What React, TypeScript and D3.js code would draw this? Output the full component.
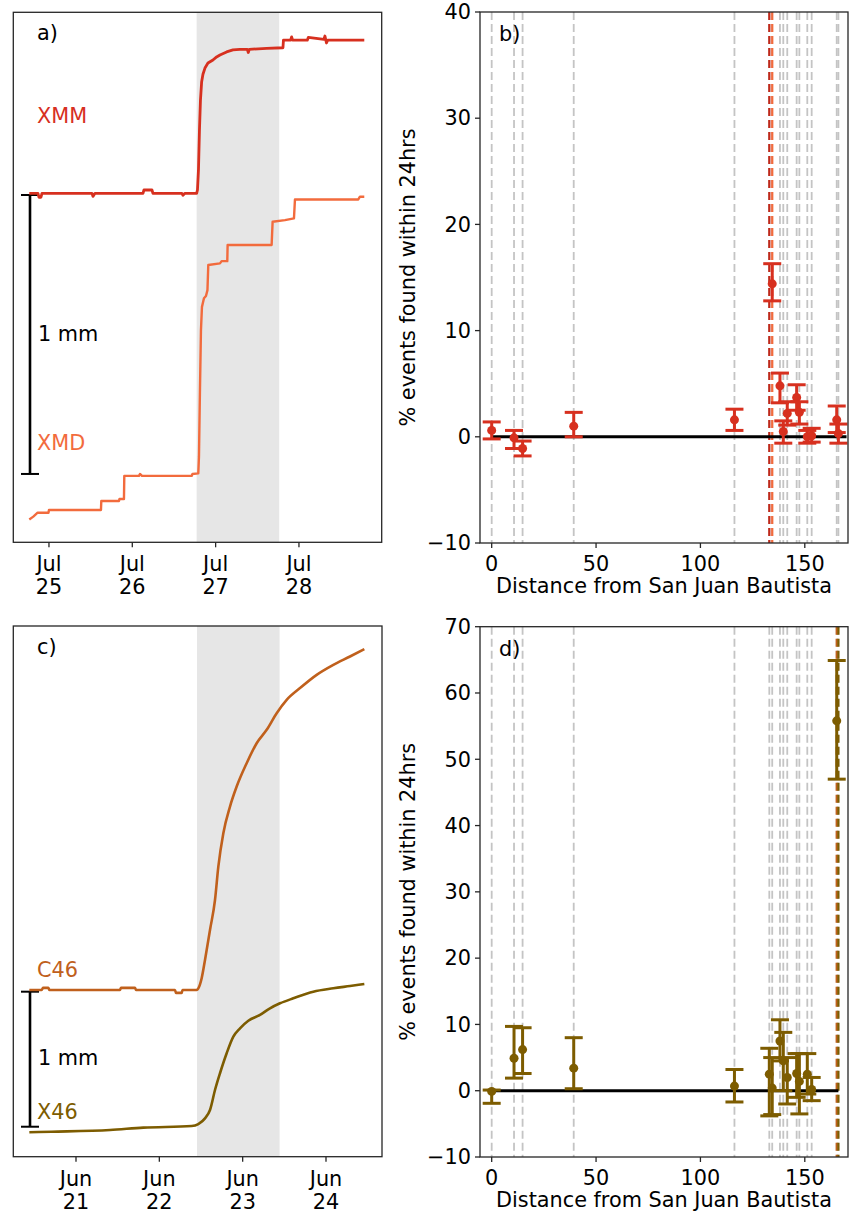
import React from "react";
import * as d3 from "d3";

// ---------- DATA ----------
// panel a (July), time as day-of-month (fractional), value in mm (display offset)
const xmmDay = [24.764, 24.868, 24.88, 24.904, 24.916, 25.516, 25.528, 25.552, 26.128, 26.14, 26.236, 26.248, 26.596, 26.608, 26.632, 26.772, 26.782, 26.794, 26.806, 26.818, 26.832, 26.848, 26.872, 26.908, 26.968, 27.012, 27.052, 27.132, 27.208, 27.292, 27.38, 27.392, 27.404, 27.612, 27.808, 27.814, 27.9, 27.912, 27.924, 28.1, 28.112, 28.3, 28.312, 28.33, 28.345, 28.784];
const xmmVal = [1.251, 1.251, 1.237, 1.237, 1.251, 1.251, 1.24, 1.251, 1.251, 1.263, 1.263, 1.251, 1.251, 1.244, 1.251, 1.251, 1.263, 1.334, 1.478, 1.585, 1.65, 1.678, 1.7, 1.718, 1.729, 1.74, 1.747, 1.758, 1.765, 1.767, 1.767, 1.756, 1.767, 1.771, 1.773, 1.8, 1.8, 1.812, 1.8, 1.8, 1.81, 1.803, 1.815, 1.79, 1.8, 1.8];
const xmdDay = [24.764, 24.812, 24.864, 24.994, 25.0, 25.624, 25.628, 25.84, 25.846, 25.9, 25.904, 26.08, 26.092, 26.116, 26.712, 26.722, 26.792, 26.8, 26.812, 26.824, 26.836, 26.86, 26.884, 26.902, 26.912, 27.052, 27.072, 27.14, 27.144, 27.672, 27.684, 27.832, 27.94, 27.952, 28.712, 28.732, 28.784];
const xmdVal = [0.082, 0.092, 0.106, 0.106, 0.116, 0.116, 0.148, 0.148, 0.155, 0.155, 0.238, 0.238, 0.245, 0.238, 0.238, 0.245, 0.247, 0.307, 0.546, 0.761, 0.844, 0.875, 0.883, 0.904, 0.994, 1.0, 1.008, 1.008, 1.066, 1.066, 1.149, 1.155, 1.161, 1.229, 1.229, 1.239, 1.239];
const bandA = [26.772, 27.763];

// panel c (June)
const c46Day = [20.44, 20.588, 20.604, 20.668, 20.682, 21.528, 21.54, 21.708, 21.72, 22.188, 22.2, 22.268, 22.278, 22.448, 22.468, 22.508, 22.548, 22.608, 22.668, 22.708, 22.768, 22.848, 22.928, 23.048, 23.168, 23.288, 23.408, 23.528, 23.688, 23.888, 24.088, 24.288, 24.46];
const c46Val = [1.235, 1.235, 1.25, 1.25, 1.235, 1.235, 1.25, 1.25, 1.235, 1.235, 1.213, 1.213, 1.235, 1.235, 1.247, 1.322, 1.457, 1.679, 1.901, 2.148, 2.396, 2.593, 2.741, 2.914, 3.062, 3.161, 3.284, 3.383, 3.47, 3.568, 3.642, 3.704, 3.759];
const x46Day = [20.44, 20.708, 21.408, 21.808, 22.388, 22.468, 22.548, 22.608, 22.668, 22.728, 22.808, 22.888, 22.968, 23.068, 23.208, 23.328, 23.448, 23.608, 23.848, 24.088, 24.288, 24.46];
const x46Val = [0.181, 0.185, 0.198, 0.215, 0.227, 0.242, 0.284, 0.346, 0.494, 0.618, 0.766, 0.889, 0.951, 1.007, 1.05, 1.099, 1.136, 1.173, 1.222, 1.247, 1.264, 1.279];
const bandC = [22.452, 23.443];

// station distances (km) from San Juan Bautista
const stationDist = [0, 10.7, 14.8, 39.3, 116.3, 133.0, 134.4, 138.1, 139.7, 141.6, 146.1, 147.4, 151.2, 153.3, 165.3, 166.1];

// panel b
const bDist = [0, 10.7, 14.8, 39.3, 116.3, 134.4, 138.1, 141.6, 146.1, 147.4, 139.7, 151.2, 153.3, 165.3, 166.1];
const bVal = [0.6, -0.1, -1.1, 1.0, 1.6, 14.4, 4.8, 2.2, 3.7, 2.3, 0.5, 0.0, 0.1, 1.6, 0.3];
const bLo = [-0.2, -1.1, -1.8, 0.0, 0.6, 12.8, 3.2, 1.1, 2.5, 1.2, -0.6, -0.6, -0.5, 0.4, -0.6];
const bHi = [1.4, 0.6, -0.4, 2.3, 2.6, 16.3, 6.0, 3.3, 4.9, 3.3, 1.5, 0.6, 0.8, 2.9, 1.2];

// panel d
const dDist = [0, 10.7, 14.8, 39.3, 116.3, 133.0, 134.4, 138.1, 139.7, 141.6, 146.1, 147.4, 151.2, 153.3, 165.3];
const dVal = [-0.1, 4.9, 6.2, 3.4, 0.7, 2.5, 0.4, 7.5, 4.5, 2.0, 2.6, 1.4, 2.5, 0.2, 55.8];
const dLo = [-1.9, 1.9, 2.6, 0.3, -1.7, -3.8, -3.6, 4.5, 0.0, -2.0, -1.0, -3.5, -0.5, -1.5, 47.0];
const dHi = [0.1, 9.7, 9.5, 8.0, 3.2, 6.4, 5.0, 10.7, 8.8, 5.0, 5.6, 5.6, 5.6, 2.0, 64.9];

const bTicks = [-10, 0, 10, 20, 30, 40];
const dTicks = [-10, 0, 10, 20, 30, 40, 50, 60, 70];
const distTicks = [0, 50, 100, 150];

// ---------- STYLE ----------
const FONT = "DejaVu Sans, Verdana, sans-serif";
const FS = 20.8;
const C_XMM = "#d7301f";
const C_XMD = "#f26b3d";
const C_C46 = "#c0601c";
const C_X46 = "#7d5c00";
const SPINE = "#262626";

const toDate = (month: number, day: number) =>
  new Date(Date.UTC(2020, month, 1) + (day - 1) * 864e5);

function Frame({ x0, x1, y0, y1 }: any) {
  return <rect x={x0} y={y0} width={x1 - x0} height={y1 - y0} fill="none" stroke={SPINE} strokeWidth={1.3} />;
}

function TimePanel(props: any) {
  const { x0, x1, y0, y1, month, dayDomain, yDomain, band, series, bar, label, mmLabelY } = props;
  const x = d3.scaleUtc().domain([toDate(month, dayDomain[0]), toDate(month, dayDomain[1])]).range([x0, x1]);
  const y = d3.scaleLinear().domain(yDomain).range([y1, y0]);
  const ticks = d3.utcDay.range(x.domain()[0], x.domain()[1]).filter((t) => +t > +x.domain()[0]);
  const fMon = d3.utcFormat("%b");
  const fDay = d3.utcFormat("%-d");
  return (
    <g>
      <rect x={x(toDate(month, band[0]))} y={y0} width={x(toDate(month, band[1])) - x(toDate(month, band[0]))} height={y1 - y0} fill="#e6e6e6" />
      {/* scale bar */}
      <line x1={30} x2={30} y1={y(bar[0])} y2={y(bar[1])} stroke="#000" strokeWidth={2.6} />
      <line x1={21} x2={39} y1={y(bar[0])} y2={y(bar[0])} stroke="#000" strokeWidth={2} />
      <line x1={21} x2={39} y1={y(bar[1])} y2={y(bar[1])} stroke="#000" strokeWidth={2} />
      {series.map((s: any, i: number) => {
        const line = d3.line<[number, number]>()
          .x((d) => x(toDate(month, d[0])))
          .y((d) => y(d[1]))
          .curve(s.smooth ? d3.curveMonotoneX : d3.curveLinear);
        return (
          <path key={i} d={line(s.day.map((d: number, j: number) => [d, s.val[j]])) || ""} fill="none" stroke={s.color} strokeWidth={s.w} strokeLinejoin="round" />
        );
      })}
      {series.map((s: any, i: number) => (
        <text key={"l" + i} x={37} y={s.labelY} fill={s.color} fontSize={FS} fontFamily={FONT}>{s.name}</text>
      ))}
      <text x={38} y={mmLabelY} fontSize={FS} fontFamily={FONT} fill="#000">1 mm</text>
      <text x={37} y={y0 + 28} fontSize={FS} fontFamily={FONT} fill="#000">{label}</text>
      <Frame x0={x0} x1={x1} y0={y0} y1={y1} />
      {ticks.map((t, i) => (
        <g key={i} transform={`translate(${x(t)},${y1})`}>
          <line y1={0} y2={5} stroke={SPINE} strokeWidth={1.3} />
          <text y={29} textAnchor="middle" fontSize={FS} fontFamily={FONT} fill="#000">{fMon(t)}</text>
          <text y={52} textAnchor="middle" fontSize={FS} fontFamily={FONT} fill="#000">{fDay(t)}</text>
        </g>
      ))}
    </g>
  );
}

function DistPanel(props: any) {
  const { x0, x1, y0, y1, yDomain, yTicks, dist, val, lo, hi, color, highlight, zeroEnd, label } = props;
  const x = d3.scaleLinear().domain([-5.6, 170.7]).range([x0, x1]);
  const y = d3.scaleLinear().domain(yDomain).range([y1, y0]);
  const cy = (y0 + y1) / 2;
  return (
    <g>
      {stationDist.map((s, i) => (
        <line key={i} x1={x(s)} x2={x(s)} y1={y0} y2={y1} stroke="#c4c4c4" strokeWidth={1.8} strokeDasharray="8,4" />
      ))}
      {highlight.map((h: any, i: number) => (
        <line key={"h" + i} x1={x(h.d)} x2={x(h.d)} y1={y0} y2={y1} stroke={h.c} strokeWidth={2.2} strokeDasharray="8,4" />
      ))}
      <line x1={x(0)} x2={x(zeroEnd)} y1={y(0)} y2={y(0)} stroke="#000" strokeWidth={3} />
      {dist.map((d: number, i: number) => (
        <g key={"e" + i} stroke={color} strokeWidth={3} fill={color}>
          <line x1={x(d)} x2={x(d)} y1={y(lo[i])} y2={y(hi[i])} />
          <line x1={x(d) - 9} x2={x(d) + 9} y1={y(lo[i])} y2={y(lo[i])} />
          <line x1={x(d) - 9} x2={x(d) + 9} y1={y(hi[i])} y2={y(hi[i])} />
          <circle cx={x(d)} cy={y(val[i])} r={4.5} stroke="none" />
        </g>
      ))}
      <text x={x0 + 19} y={y0 + 29} fontSize={FS} fontFamily={FONT} fill="#000">{label}</text>
      <Frame x0={x0} x1={x1} y0={y0} y1={y1} />
      {yTicks.map((t: number) => (
        <g key={t} transform={`translate(${x0},${y(t)})`}>
          <line x1={-5} x2={0} stroke={SPINE} strokeWidth={1.3} />
          <text x={-9} dy="0.35em" textAnchor="end" fontSize={FS} fontFamily={FONT} fill="#000">{d3.format("d")(t)}</text>
        </g>
      ))}
      {distTicks.map((t) => (
        <g key={t} transform={`translate(${x(t)},${y1})`}>
          <line y1={0} y2={5} stroke={SPINE} strokeWidth={1.3} />
          <text y={28} textAnchor="middle" fontSize={FS} fontFamily={FONT} fill="#000">{t}</text>
        </g>
      ))}
      <text x={(x0 + x1) / 2} y={y1 + 50} textAnchor="middle" fontSize={FS} fontFamily={FONT} fill="#000">Distance from San Juan Bautista</text>
      <text transform={`translate(415,${cy}) rotate(-90)`} textAnchor="middle" fontSize={FS} fontFamily={FONT} fill="#000">% events found within 24hrs</text>
    </g>
  );
}

export default function App() {
  return (
    <svg width={851} height={1213} style={{ position: "absolute", left: 0, top: 0, background: "#fff" }}>
      <rect width={851} height={1213} fill="#fff" />
      <TimePanel
        x0={13.3} x1={381.7} y0={12.3} y1={542.3} month={6} dayDomain={[24.572, 28.993]} yDomain={[0, 1.9]}
        band={bandA} bar={[0.245, 1.245]} label="a)" mmLabelY={341}
        series={[
          { name: "XMD", day: xmdDay, val: xmdVal, color: C_XMD, w: 2.4, labelY: 450 },
          { name: "XMM", day: xmmDay, val: xmmVal, color: C_XMM, w: 2.8, labelY: 123 },
        ]}
      />
      <TimePanel
        x0={13.3} x1={382} y0={626} y1={1156.7} month={5} dayDomain={[20.2476, 24.672]} yDomain={[0, 3.93]}
        band={bandC} bar={[0.222, 1.222]} label="c)" mmLabelY={1065}
        series={[
          { name: "C46", day: c46Day, val: c46Val, color: C_C46, w: 2.6, labelY: 977, smooth: true },
          { name: "X46", day: x46Day, val: x46Val, color: C_X46, w: 2.6, labelY: 1119, smooth: true },
        ]}
      />
      <DistPanel
        x0={480} x1={848} y0={12} y1={543} yDomain={[-10, 40]} yTicks={bTicks}
        dist={bDist} val={bVal} lo={bLo} hi={bHi} color={C_XMM} zeroEnd={170} label="b)"
        highlight={[{ d: 133.0, c: "#c0281a" }, { d: 134.4, c: C_XMD }]}
      />
      <DistPanel
        x0={480} x1={848} y0={626.7} y1={1157} yDomain={[-10, 70]} yTicks={dTicks}
        dist={dDist} val={dVal} lo={dLo} hi={dHi} color={C_X46} zeroEnd={166.1} label="d)"
        highlight={[{ d: 165.3, c: C_C46 }, { d: 166.1, c: C_X46 }]}
      />
    </svg>
  );
}
